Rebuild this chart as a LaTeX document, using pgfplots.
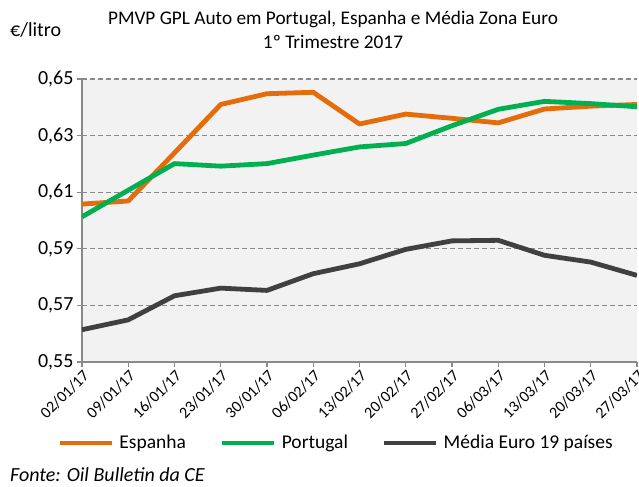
\documentclass[border=0pt]{standalone}
\usepackage{fontspec}
\setmainfont{Carlito}
\usepackage{pgfplots}
\pgfplotsset{compat=1.18}
\definecolor{esp}{HTML}{E46C0A}
\definecolor{por}{HTML}{00B050}
\definecolor{med}{HTML}{404040}
\definecolor{bg}{HTML}{F2F2F2}
\definecolor{grd}{HTML}{898989}
\begin{document}
\begin{tikzpicture}
\path[use as bounding box] (-82bp,-125bp) rectangle (557bp,362bp);
\begin{axis}[
  at={(0,0)}, anchor=south west,
  scale only axis, width=555bp, height=283bp,
  xmin=0, xmax=12, ymin=0.55, ymax=0.65,
  axis background/.style={fill=bg},
  axis x line*=bottom, axis y line*=left,
  axis line style={grd, line width=1.2bp, -},
  ymajorgrids,
  grid style={grd, line width=1.2bp, dash pattern=on 5bp off 3bp},
  ytick={0.55,0.57,0.59,0.61,0.63,0.65},
  xtick={0,...,12},
  xticklabels={02/01/17,09/01/17,16/01/17,23/01/17,30/01/17,06/02/17,13/02/17,20/02/17,27/02/17,06/03/17,13/03/17,20/03/17,27/03/17},
  x tick label style={rotate=45, anchor=north east, font=\fontsize{16bp}{18bp}\selectfont, inner sep=1bp},
  y tick label style={font=\fontsize{20bp}{22bp}\selectfont},
  yticklabel style={/pgf/number format/.cd, fixed, fixed zerofill, precision=2, use comma, assume math mode=true},
  tick style={grd, line width=1.2bp},
  tick align=outside, major tick length=5bp,
  legend style={at={(0.458,-0.286)}, anchor=center, legend columns=3, draw=none, fill=none,
    font=\fontsize{19.5bp}{22bp}\selectfont, inner sep=0pt,
    /tikz/every odd column/.append style={column sep=3bp},
    /tikz/every even column/.append style={column sep=32bp}},
  legend image code/.code={\draw[#1, line width=4.8bp] (0bp,0bp) -- (52bp,0bp);},
  every axis plot/.append style={line width=4.8bp, line join=round, mark=none},
]
\addplot[esp] coordinates {(0,0.6058) (1,0.6069) (2,0.6239) (3,0.6410) (4,0.6448) (5,0.6453) (6,0.6341) (7,0.6376) (8,0.6361) (9,0.6345) (10,0.6394) (11,0.6404) (12,0.6410)};
\addplot[por] coordinates {(0,0.6013) (1,0.6107) (2,0.6201) (3,0.6192) (4,0.6201) (5,0.6231) (6,0.6260) (7,0.6272) (8,0.6335) (9,0.6393) (10,0.6421) (11,0.6413) (12,0.6402)};
\addplot[med] coordinates {(0,0.5614) (1,0.5649) (2,0.5734) (3,0.5761) (4,0.5753) (5,0.5812) (6,0.5847) (7,0.5898) (8,0.5928) (9,0.5930) (10,0.5877) (11,0.5853) (12,0.5806)};
\legend{Espanha, Portugal, Média Euro 19 países}
\end{axis}
\node[font=\fontsize{19.3bp}{24bp}\selectfont, align=center] at (251bp,332bp) {PMVP GPL Auto em Portugal, Espanha e Média Zona Euro\\1º Trimestre 2017};
\node[font=\fontsize{20bp}{22bp}\selectfont, anchor=west, inner sep=0pt] at (-72bp,332bp) {€/litro};
\node[font=\fontsize{20bp}{22bp}\selectfont\itshape, anchor=west, inner sep=0pt] at (-72bp,-113bp) {Fonte: Oil Bulletin da CE};
\end{tikzpicture}
\end{document}
